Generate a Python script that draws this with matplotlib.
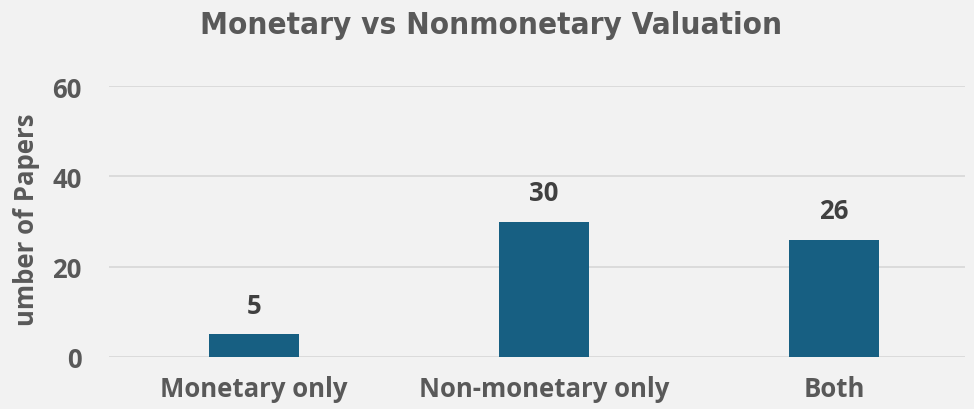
import matplotlib
matplotlib.use("Agg")
import matplotlib.pyplot as plt

categories = ["Monetary only", "Non-monetary only", "Both"]
values = [5, 30, 26]
yticks = [0, 20, 40, 60]
title = "Monetary vs Nonmonetary Valuation"
ylabel = "umber of Papers"

BG = "#F2F2F2"
BAR = "#175F82"
TXT = "#595959"
LBL = "#404040"
GRID = "#D9D9D9"
FAM = ["Open Sans", "DejaVu Sans"]
FS = 18.5

fig = plt.figure(figsize=(9.74, 4.10), dpi=100, facecolor=BG)
W, H = 974, 410
left, right = 109, 965
bottom, top = 358, 87
ax = fig.add_axes([left / W, (H - bottom) / H, (right - left) / W, (bottom - top) / H])
ax.set_facecolor(BG)

x = list(range(len(categories)))
ax.bar(x, values, width=0.31, color=BAR, zorder=3)
ax.set_xlim(-0.5, 2.5 - (979 - 965) / 290)
ax.set_ylim(0, 60)
ax.set_yticks(yticks)
ax.yaxis.grid(True, color=GRID, linewidth=1.3, zorder=0)
ax.tick_params(axis="both", length=0)
for s in ax.spines.values():
    s.set_visible(False)

ax.set_xticks(x)
ax.set_xticklabels(categories, fontsize=FS, fontweight="bold", color=TXT, family=FAM)
for lab in ax.get_yticklabels():
    lab.set_fontsize(FS)
    lab.set_fontweight("bold")
    lab.set_family(FAM)
    lab.set_color(TXT)
ax.tick_params(axis="y", pad=19.5)
ax.tick_params(axis="x", pad=13)

for xi, v in zip(x, values):
    ax.annotate(str(v), (xi, v), xytext=(0, 11), textcoords="offset points",
                ha="center", va="bottom", fontsize=FS, fontweight="bold",
                color=LBL, family=FAM)

fig.text(27 / W, 1 - 220 / H, ylabel, rotation=90, ha="center", va="center",
         fontsize=FS, fontweight="bold", color=TXT, family=FAM)

fig.text(491 / W, 1 - 26 / H, title, ha="center", va="center", fontsize=22.5,
         fontweight="bold", fontstretch="condensed", color=TXT,
         family=["DejaVu Sans"])

fig.savefig("out.png", dpi=100, facecolor=BG)
